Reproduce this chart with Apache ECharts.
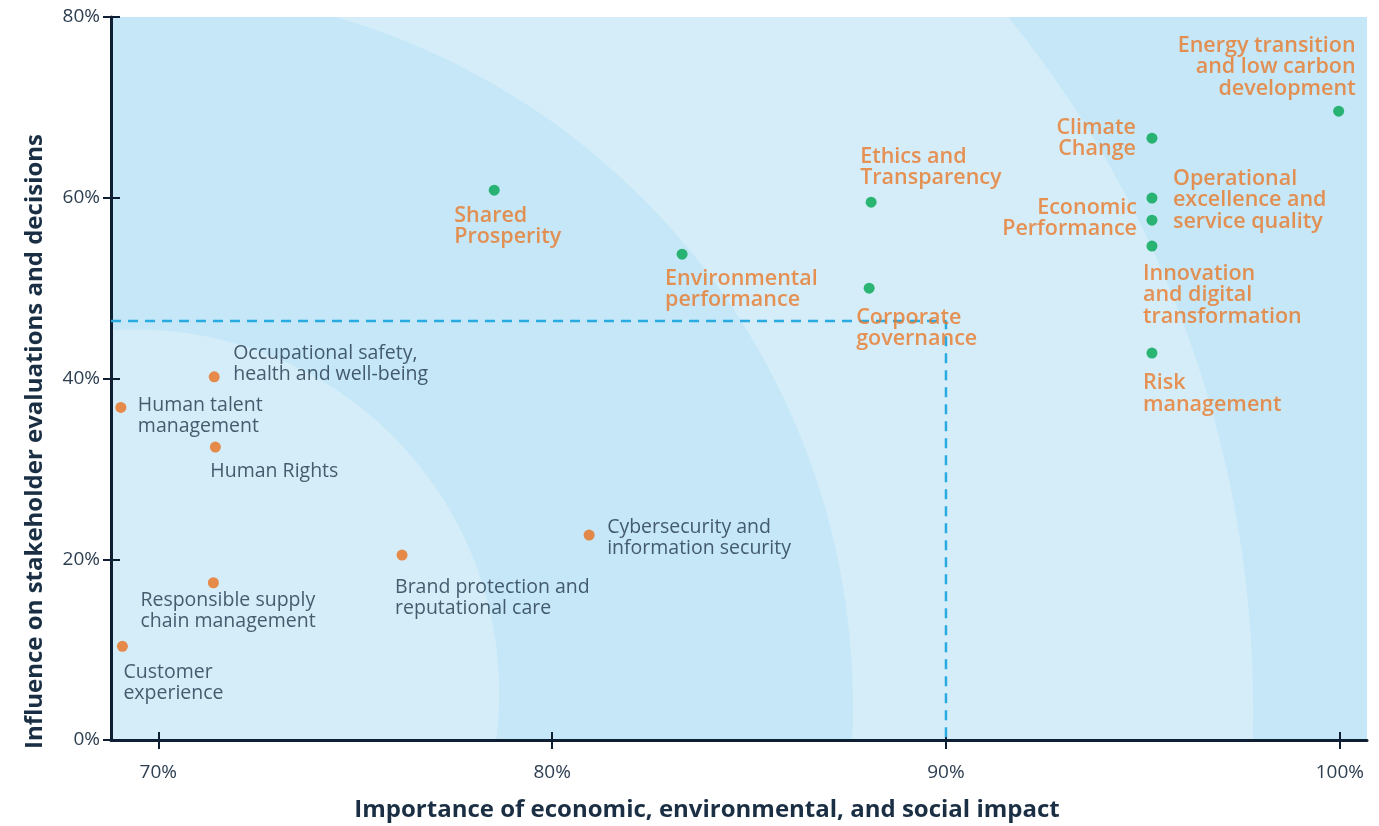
<!DOCTYPE html>
<html>
<head>
<meta charset="utf-8">
<title>Materiality matrix</title>
<script src="https://cdn.jsdelivr.net/npm/echarts@6/dist/echarts.min.js"></script>
<style>
  html, body { margin: 0; padding: 0; background: #fff; }
  #chart { width: 1379px; height: 826px; }
</style>
</head>
<body>
<div id="chart"></div>
<script>
// material topics (green dots, orange labels)
const materialNames = [
  'Shared\nProsperity',
  'Environmental\nperformance',
  'Ethics and\nTransparency',
  'Corporate\ngovernance',
  'Climate\nChange',
  'Operational\nexcellence and\nservice quality',
  'Economic\nPerformance',
  'Innovation\nand digital\ntransformation',
  'Risk\nmanagement',
  'Energy transition\nand low carbon\ndevelopment'
]
const materialX = [78.53, 83.30, 88.10, 88.05, 95.23, 95.23, 95.23, 95.23, 95.23, 99.97]
const materialY = [60.84, 53.76, 59.51, 50.0, 66.59, 59.96, 57.52, 54.65, 42.81, 69.58]

// other topics (orange dots, dark labels)
const otherNames = [
  'Occupational safety,\nhealth and well-being',
  'Human talent\nmanagement',
  'Human Rights',
  'Responsible supply\nchain management',
  'Customer\nexperience',
  'Brand protection and\nreputational care',
  'Cybersecurity and\ninformation security'
]
const otherX = [71.42, 69.05, 71.45, 71.40, 69.09, 76.19, 80.94]
const otherY = [40.19, 36.80, 32.41, 17.40, 10.36, 20.46, 22.68]

// axes
const xTicks = [70, 80, 90, 100]
const yTicks = [0, 20, 40, 60, 80]
const xMin = 68.8, xMax = 100.69
const thresholdX = 90
const thresholdY = 46.35

// label placement: [dx, dy, align] from dot centre (px)
const materialLabelPos = [
  [-40, 36, 'left'], [-17, 35, 'left'], [-11, -35, 'left'], [-13, 40, 'left'],
  [-16, 0, 'right'], [21, 2, 'left'], [-15, -2, 'right'], [-9, 49, 'left'],
  [-9, 41, 'left'], [17, -44, 'right']
]
const otherLabelPos = [
  [19, -13, 'left'], [17, 9, 'left'], [-5, 24, 'left'], [-73, 28, 'left'],
  [1, 37, 'left'], [-7, 43, 'left'], [18, 3, 'left']
]

// background rings: centre [x, y] and radius in x units
const rings = [
  { c: [69.85, 3.41], r: 27.95, color: '#d5edf9' },
  { c: [69.44, 3.81], r: 18.2, color: '#c5e7f7' },
  { c: [69.43, 5.21], r: 9.226, color: '#d5edf9' }
]

const FONT = '"Open Sans", "Noto Sans", sans-serif'

function buildPoints(names, xs, ys, pos, labelStyle) {
  return names.map(function (n, i) {
    return {
      name: n,
      value: [xs[i], ys[i]],
      label: Object.assign({
        show: true,
        position: 'inside',
        formatter: '{b}',
        offset: [pos[i][0], pos[i][1]],
        align: pos[i][2],
        verticalAlign: 'middle'
      }, labelStyle)
    }
  })
}

let myChart = echarts.init(document.getElementById('chart'))

let option = {
  animation: false,
  grid: { left: 111, right: 12, top: 17, bottom: 86, containLabel: false, outerBoundsMode: 'none' },
  xAxis: [{
    type: 'value',
    min: xMin,
    max: xMax,
    name: 'Importance of economic, environmental, and social impact',
    nameLocation: 'middle',
    nameGap: 58,
    nameTextStyle: { color: '#1b2f44', fontSize: 24, fontWeight: 'bold', fontFamily: FONT, padding: [0, 64, 0, 0] },
    axisLine: { show: true, lineStyle: { color: '#0e1e33', width: 3 } },
    axisTick: { show: true, length: 9, customValues: xTicks, lineStyle: { color: '#0e1e33', width: 2 } },
    axisLabel: {
      customValues: xTicks,
      margin: 23,
      color: '#2d3e50',
      fontSize: 19,
      fontFamily: FONT,
      formatter: function (v) { return v + '%' }
    },
    splitLine: { show: false }
  }, {
    // inner half of the crossing ticks
    type: 'value',
    min: xMin,
    max: xMax,
    position: 'bottom',
    axisLine: { show: false },
    axisTick: { show: true, inside: true, length: 8, customValues: xTicks, lineStyle: { color: '#0e1e33', width: 2 } },
    axisLabel: { show: false },
    splitLine: { show: false }
  }],
  yAxis: [{
    type: 'value',
    min: 0,
    max: 80,
    interval: 20,
    name: 'Influence on stakeholder evaluations and decisions',
    nameLocation: 'middle',
    nameGap: 64,
    nameTextStyle: { color: '#1b2f44', fontSize: 24, fontWeight: 'bold', fontFamily: FONT, padding: [0, 126, 0, 0] },
    axisLine: { show: true, lineStyle: { color: '#0e1e33', width: 3 } },
    axisTick: { show: true, length: 8, lineStyle: { color: '#0e1e33', width: 2 } },
    axisLabel: {
      margin: 11,
      color: '#2d3e50',
      fontSize: 19,
      fontFamily: FONT,
      formatter: function (v) { return v + '%' }
    },
    splitLine: { show: false }
  }, {
    type: 'value',
    min: 0,
    max: 80,
    interval: 20,
    position: 'left',
    axisLine: { show: false },
    axisTick: { show: true, inside: true, length: 9, lineStyle: { color: '#0e1e33', width: 2 } },
    axisLabel: { show: false },
    splitLine: { show: false }
  }],
  series: [{
    type: 'custom',
    clip: true,
    silent: true,
    z: 0,
    data: [0],
    renderItem: function (params, api) {
      let tl = api.coord([xMin, 80])
      let br = api.coord([xMax, 0])
      let children = [{
        type: 'rect',
        shape: { x: tl[0], y: tl[1], width: br[0] - tl[0], height: br[1] - tl[1] },
        style: { fill: '#c5e7f7' }
      }]
      rings.forEach(function (ring) {
        let c = api.coord(ring.c)
        let r = api.size([ring.r, 0])[0]
        children.push({ type: 'circle', shape: { cx: c[0], cy: c[1], r: r }, style: { fill: ring.color } })
      })
      return { type: 'group', children: children }
    }
  }, {
    // threshold lines
    type: 'line',
    z: 2,
    symbol: 'none',
    silent: true,
    lineStyle: { color: '#29aae1', width: 2.5, type: [10, 7] },
    data: [[xMin, thresholdY], [thresholdX, thresholdY], [thresholdX, 0]]
  }, {
    type: 'scatter',
    z: 3,
    symbolSize: 11,
    itemStyle: { color: '#00a651' },
    data: buildPoints(materialNames, materialX, materialY, materialLabelPos, {
      color: '#e8792b', fontSize: 21.5, fontWeight: 600, lineHeight: 21.5, fontFamily: FONT
    })
  }, {
    type: 'scatter',
    z: 3,
    symbolSize: 11,
    itemStyle: { color: '#e8701c' },
    data: buildPoints(otherNames, otherX, otherY, otherLabelPos, {
      color: '#22364a', fontSize: 19.5, lineHeight: 21, fontFamily: FONT
    })
  }]
}
myChart.setOption(option)
</script>
</body>
</html>
